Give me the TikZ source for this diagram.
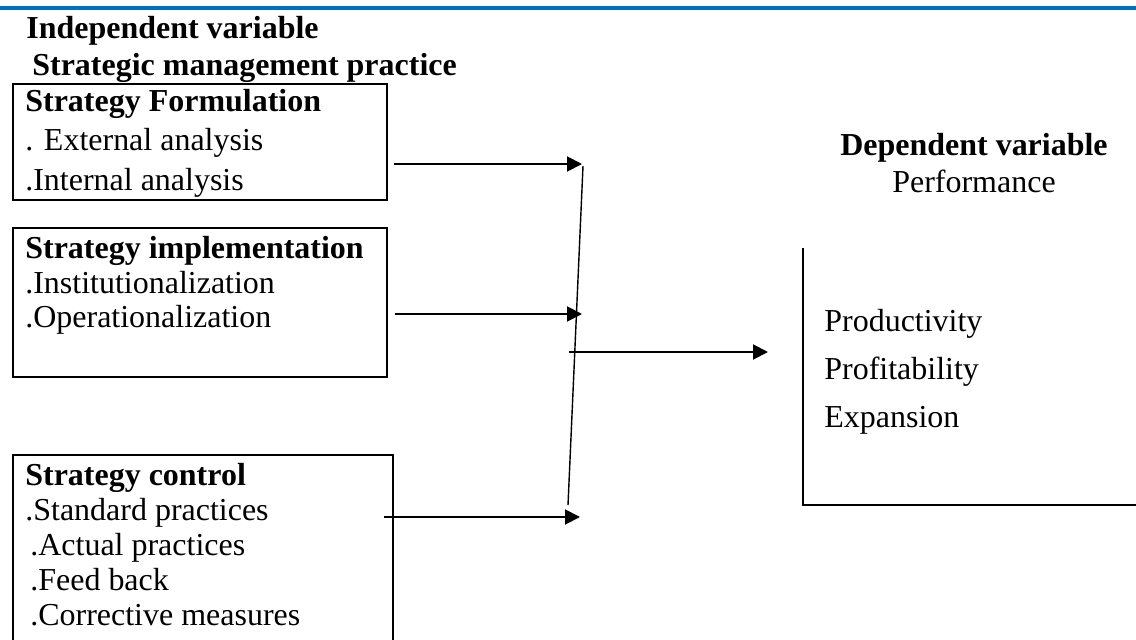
\documentclass[tikz,border=0pt]{standalone}
\usepackage{fontspec}
\setmainfont{Liberation Serif}
\usetikzlibrary{positioning, arrows.meta, calc}
\definecolor{rulerblue}{RGB}{0,112,192}

\begin{document}
\begin{tikzpicture}[
    x=0.02cm, y=-0.02cm,
    txt/.style={anchor=base west, inner sep=0pt, font=\fontsize{18.2}{22}\selectfont},
    head/.style={txt, font=\fontsize{18.2}{22}\selectfont\bfseries},
    box/.style={draw, line width=1.1pt, anchor=north west, inner sep=0pt, minimum width=7.48cm},
    frame/.style={line width=1.1pt},
    arrow/.style={-{Triangle[length=0.3cm, width=0.3cm]}, line width=1.1pt},
]
\useasboundingbox (0,0) rectangle (1136,639);
\clip (0,0) rectangle (1136,639);

% Rule at the top
\draw[rulerblue, line width=2.3pt] (0,8) -- (1136,8);

% Independent side
\node[head] (indep) at (26,38) {Independent variable};
\node[head] (smp) at (32,75) {Strategic management practice};

\node[box, minimum height=2.32cm] (box1) at (12,83) {};
\node[box, minimum height=2.98cm] (box2) at (12,227) {};
\node[box, minimum width=7.6cm, minimum height=4.2cm] (box3) at (12,454) {};

\node[head] (f0) at (25,111) {Strategy Formulation};
\node[txt] (f1) at (25,150) {. External analysis};
\node[txt] (f2) at (25,190) {.Internal analysis};

\node[head] (i0) at (25,258) {Strategy implementation};
\node[txt] (i1) at (25,293) {.Institutionalization};
\node[txt] (i2) at (25,327) {.Operationalization};

\node[head] (c0) at (25,485) {Strategy control};
\node[txt] (c1) at (25,520) {.Standard practices};
\foreach \y/\t [count=\i from 2] in {555/.Actual practices, 590/.Feed back, 625/.Corrective measures}{
    \node[txt] (c\i) at (30,\y) {\t};
}

% Dependent side
\node[head, anchor=base] (dep) at (974,155) {Dependent variable};
\node[txt, anchor=base] (perf) at (974,192) {Performance};
\coordinate (ptop) at (803,248);
\coordinate (pcorner) at (803,505);
\draw[frame] (ptop) -- (pcorner) -- ++(340,0);
\foreach \y/\t [count=\i] in {331/Productivity, 379/Profitability, 427/Expansion}{
    \node[txt] (p\i) at (824,\y) {\t};
}

% Collecting line and arrows
\coordinate (bustop) at (583,166);
\coordinate (busbot) at (568,505);
\draw[line width=0.8pt] (bustop) -- (busbot);

\coordinate (t1) at (582,164);
\coordinate (t2) at (582,314);
\coordinate (t3) at (580,517);
\draw[arrow] ($(box1.east |- t1)+(6,0)$) -- (t1);
\draw[arrow] ($(box2.east |- t2)+(7,0)$) -- (t2);
\draw[arrow] ($(box3.east |- t3)+(-10,0)$) -- (t3);

\coordinate (mid) at (569,352);
\draw[arrow] (mid) -- ($(mid -| ptop)+(-35,0)$);

\end{tikzpicture}
\end{document}
